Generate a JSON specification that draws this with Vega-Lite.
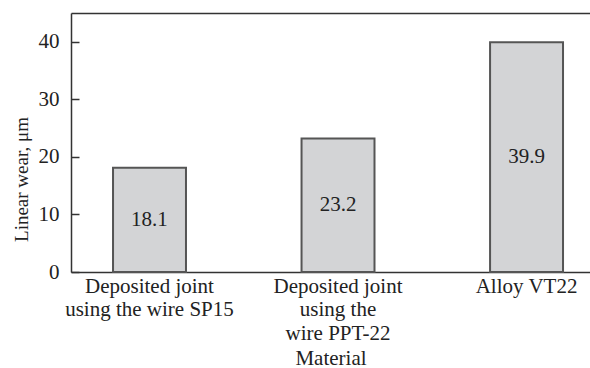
{
  "$schema": "https://vega.github.io/schema/vega-lite/v6.json",
  "width": 519,
  "height": 259,
  "autosize": {"type": "none"},
  "padding": {"left": 71, "top": 13, "right": 0, "bottom": 96},
  "background": "white",
  "config": {
    "view": {"stroke": null},
    "font": "'Liberation Serif', serif",
    "text": {"font": "'Liberation Serif', serif"},
    "axis": {"labelFont": "'Liberation Serif', serif", "titleFont": "'Liberation Serif', serif", "labelFontSize": 21, "titleFontSize": 21, "titleFontWeight": "normal", "labelColor": "#222", "titleColor": "#222", "domainColor": "#333", "domainWidth": 1.5, "tickColor": "#333", "grid": false}
  },
  "data": {"values": [
    {"material": "Deposited joint|using the wire SP15", "wear": 18.1},
    {"material": "Deposited joint|using the|wire PPT-22", "wear": 23.2},
    {"material": "Alloy VT22", "wear": 39.9}
  ]},
  "layer": [
    {
      "mark": {"type": "bar", "fill": "#d3d4d6", "stroke": "#555", "strokeWidth": 2},
      "encoding": {
        "x": {"field": "material", "type": "nominal", "sort": null,
          "scale": {"paddingInner": 0.613, "paddingOuter": 0.183, "align": 0.609},
          "axis": {"title": "Material", "labelAngle": 0, "ticks": false, "labelPadding": 3, "labelExpr": "split(datum.value, '|')", "labelLineHeight": 23.5, "labelBaseline": "top", "titlePadding": 4}},
        "y": {"field": "wear", "type": "quantitative", "scale": {"domain": [0, 45], "nice": false},
          "axis": {"title": "Linear wear, μm", "titleFontSize": 19, "values": [0, 10, 20, 30, 40], "tickSize": -8, "tickWidth": 1.5, "labelPadding": 20, "titlePadding": 7, "titleY": 166}}
      }
    },
    {
      "mark": {"type": "text", "fontSize": 21, "color": "#222", "baseline": "middle", "font": "'Liberation Serif', serif"},
      "encoding": {
        "x": {"field": "material", "type": "nominal", "sort": null,
          "axis": {"orient": "top", "title": null, "labels": false, "ticks": false, "domain": true}},
        "y": {"field": "wear", "type": "quantitative", "scale": {"domain": [0, 90], "nice": false}, "axis": null},
        "text": {"field": "wear", "type": "quantitative", "format": ".1f"}
      }
    }
  ],
  "resolve": {"scale": {"y": "independent"}, "axis": {"x": "independent"}}
}
